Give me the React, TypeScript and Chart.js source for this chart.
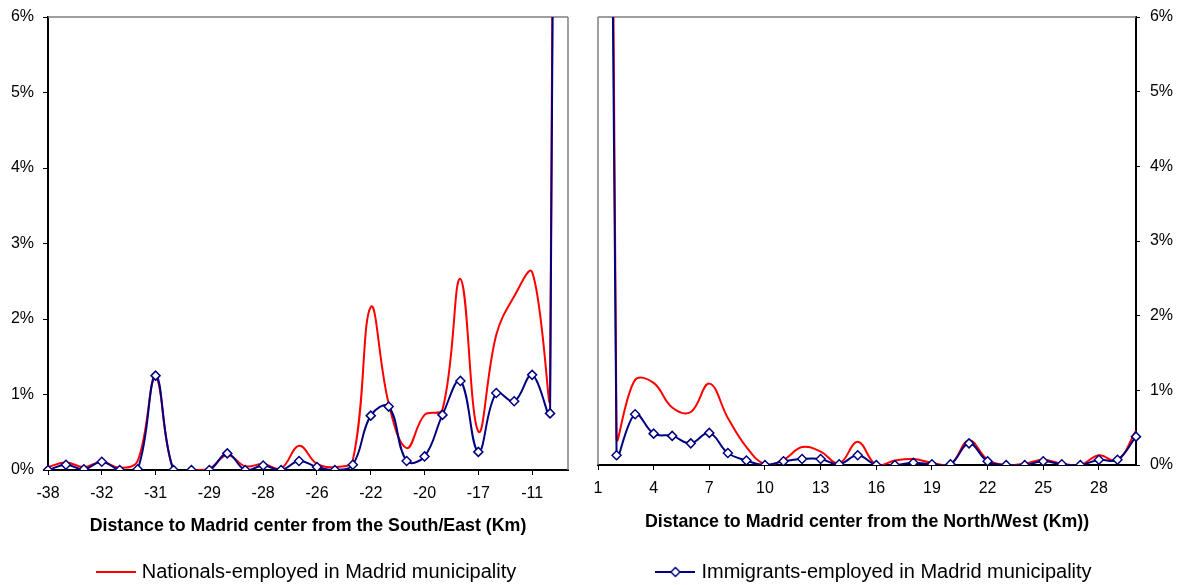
import React, { useEffect, useRef } from 'react';
import { Chart, registerables } from 'chart.js';

Chart.register(...registerables);

// ---------- data ----------
const leftTickLabels = ['-38', '', '', '-32', '', '', '-31', '', '', '-29', '', '', '-28', '', '', '-26', '', '', '-22', '', '', '-20', '', '', '-17', '', '', '-11', '', ''];
const leftNationals = [0.04, 0.10, 0.04, 0.11, 0.03, 0.12, 1.22, 0.0, 0.0, 0.02, 0.20, 0.05, 0.08, 0.02, 0.32, 0.08, 0.04, 0.13, 2.16, 0.88, 0.29, 0.73, 0.80, 2.53, 0.51, 1.79, 2.30, 2.62, 1.02, 55];
const leftImmigrants = [0.0, 0.07, 0.01, 0.11, 0.0, 0.01, 1.25, 0.0, 0.0, 0.0, 0.22, 0.0, 0.06, 0.0, 0.12, 0.04, 0.0, 0.07, 0.72, 0.84, 0.12, 0.18, 0.73, 1.18, 0.24, 1.02, 0.91, 1.26, 0.75, 50];

const rightCategories = ['1', '2', '3', '4', '5', '6', '7', '8', '9', '10', '11', '12', '13', '14', '15', '16', '17', '18', '19', '20', '21', '22', '23', '24', '25', '26', '27', '28', '29', '30'];
const rightShownTicks = ['1', '4', '7', '10', '13', '16', '19', '22', '25', '28'];
const rightNationals = [45, 0.39, 1.14, 1.10, 0.77, 0.71, 1.09, 0.63, 0.24, 0.01, 0.07, 0.24, 0.18, 0.02, 0.31, 0.0, 0.06, 0.08, 0.03, 0.01, 0.33, 0.07, 0.0, 0.02, 0.07, 0.02, 0.0, 0.13, 0.06, 0.46];
const rightImmigrants = [40, 0.13, 0.68, 0.42, 0.39, 0.29, 0.43, 0.16, 0.06, 0.0, 0.05, 0.08, 0.08, 0.01, 0.13, 0.0, 0.0, 0.03, 0.01, 0.01, 0.29, 0.05, 0.0, 0.0, 0.05, 0.01, 0.0, 0.07, 0.07, 0.38];

const yMin = 0;
const yMax = 6;
const yStep = 1;

const nationalsLabel = 'Nationals-employed in Madrid municipality';
const immigrantsLabel = 'Immigrants-employed in Madrid municipality';
const leftTitle = 'Distance to Madrid center from the South/East (Km)';
const rightTitle = 'Distance to Madrid center from the North/West (Km))';

// ---------- styles ----------
const RED = '#FF0000';
const NAVY = '#000080';
const FONT = "'Liberation Sans', Arial, Helvetica, sans-serif";

Chart.defaults.font.family = FONT;
Chart.defaults.color = '#000';

function makeSymbol(color: string, diamond: boolean) {
  const c = document.createElement('canvas');
  c.width = 40;
  c.height = 12;
  const g = c.getContext('2d') as CanvasRenderingContext2D;
  g.strokeStyle = color;
  g.lineWidth = 2;
  g.beginPath();
  g.moveTo(0, 6);
  g.lineTo(40, 6);
  g.stroke();
  if (diamond) {
    g.fillStyle = '#fff';
    g.lineWidth = 1.5;
    g.beginPath();
    g.moveTo(20, 1.5);
    g.lineTo(24.5, 6);
    g.lineTo(20, 10.5);
    g.lineTo(15.5, 6);
    g.closePath();
    g.fill();
    g.stroke();
  }
  return c;
}

function framePlugin(sides: string[]) {
  return {
    id: 'plotFrame',
    beforeDatasetsDraw(chart: any) {
      const { ctx, chartArea: a } = chart;
      ctx.save();
      ctx.strokeStyle = '#808080';
      ctx.lineWidth = 1.5;
      ctx.beginPath();
      if (sides.includes('top')) {
        ctx.moveTo(a.left, a.top);
        ctx.lineTo(a.right, a.top);
      }
      if (sides.includes('right')) {
        ctx.moveTo(a.right, a.top);
        ctx.lineTo(a.right, a.bottom);
      }
      if (sides.includes('left')) {
        ctx.moveTo(a.left, a.top);
        ctx.lineTo(a.left, a.bottom);
      }
      ctx.stroke();
      ctx.restore();
    },
  };
}

function datasets(nat: number[], imm: number[]) {
  return [
    {
      label: nationalsLabel,
      data: nat,
      borderColor: RED,
      backgroundColor: RED,
      borderWidth: 2,
      pointRadius: 0,
      tension: 0.4,
      fill: false,
      order: 2,
    },
    {
      label: immigrantsLabel,
      data: imm,
      borderColor: NAVY,
      backgroundColor: NAVY,
      borderWidth: 2,
      pointStyle: 'rectRot',
      pointRadius: 4.5,
      pointBackgroundColor: '#fff',
      pointBorderColor: NAVY,
      pointBorderWidth: 1.5,
      tension: 0.4,
      fill: false,
      order: 1,
    },
  ];
}

function yScale(position: 'left' | 'right', width: number, tickLength: number, padding: number, mirror: boolean) {
  return {
    position,
    min: yMin,
    max: yMax,
    ticks: {
      stepSize: yStep,
      callback: (v: any) => `${v}%`,
      font: { size: 16, family: FONT },
      color: '#000',
      padding,
      mirror,
      crossAlign: 'near',
    },
    grid: { drawOnChartArea: false, drawTicks: true, tickLength, color: '#000', lineWidth: 1 },
    border: { display: true, color: '#000', width: 2 },
    afterFit: (s: any) => {
      s.width = width;
      s.paddingTop = 0;
      s.paddingBottom = 0;
    },
  };
}

function xScale(labelsShown: (v: string, i: number) => string, title: string, height: number, titlePad: number) {
  return {
    type: 'category',
    offset: false,
    ticks: {
      autoSkip: false,
      maxRotation: 0,
      minRotation: 0,
      padding: 9,
      font: { size: 16, family: FONT },
      color: '#000',
      callback: function (this: any, _v: any, i: number) {
        return labelsShown(this.getLabelForValue(i), i);
      },
    },
    grid: {
      drawOnChartArea: false,
      drawTicks: true,
      tickLength: 5,
      lineWidth: 1,
      color: (c: any) => (c.index % 3 === 0 ? '#000' : 'rgba(0,0,0,0)'),
    },
    border: { display: true, color: '#000', width: 2 },
    title: {
      display: true,
      text: title,
      color: '#000',
      font: { size: 17.8, weight: 'bold', family: FONT },
      padding: { top: 0, bottom: titlePad },
    },
    afterFit: (s: any) => {
      s.height = height;
      s.paddingLeft = 0;
      s.paddingRight = 0;
    },
  };
}

function legendOpts(text: string, symbol: HTMLCanvasElement, idx: number, fullSize: boolean) {
  return {
    position: 'bottom',
    fullSize,
    labels: {
      usePointStyle: true,
      pointStyleWidth: 32,
      padding: 10,
      color: '#000',
      font: { size: 20, family: FONT },
      generateLabels: () => [
        {
          text,
          pointStyle: symbol,
          datasetIndex: idx,
          hidden: false,
          lineWidth: 0,
          fillStyle: 'rgba(0,0,0,0)',
          strokeStyle: 'rgba(0,0,0,0)',
          fontColor: '#000',
        },
      ],
    },
  };
}

export default function App() {
  const leftRef = useRef<HTMLCanvasElement>(null);
  const rightRef = useRef<HTMLCanvasElement>(null);

  useEffect(() => {
    const redSym = makeSymbol(RED, false);
    const navySym = makeSymbol(NAVY, true);

    const left = new Chart(leftRef.current as HTMLCanvasElement, {
      type: 'line',
      data: { labels: leftTickLabels, datasets: datasets(leftNationals, leftImmigrants) as any },
      options: {
        responsive: false,
        animation: false,
        devicePixelRatio: 1,
        events: [],
        layout: { padding: { left: 0, right: 12, top: 17, bottom: -7 } },
        elements: { line: { capBezierPoints: false } },
        plugins: {
          legend: legendOpts(nationalsLabel, redSym, 0, false) as any,
          tooltip: { enabled: false },
        },
        scales: {
          x: xScale((v) => v, leftTitle, 82, 15) as any,
          y: yScale('left', 48, 5, 9, false) as any,
        },
      },
      plugins: [framePlugin(['top', 'right'])],
    });

    const right = new Chart(rightRef.current as HTMLCanvasElement, {
      type: 'line',
      data: { labels: rightCategories, datasets: datasets(rightNationals, rightImmigrants) as any },
      options: {
        responsive: false,
        animation: false,
        devicePixelRatio: 1,
        events: [],
        layout: { padding: { left: 18, right: 31, top: 17, bottom: -7 } },
        elements: { line: { capBezierPoints: false } },
        plugins: {
          legend: legendOpts(immigrantsLabel, navySym, 1, true) as any,
          tooltip: { enabled: false },
        },
        scales: {
          x: xScale((v) => (rightShownTicks.includes(v) ? v : ''), rightTitle, 87, 19) as any,
          y: yScale('right', 17, 4, 37, true) as any,
        },
      },
      plugins: [framePlugin(['top', 'left'])],
    });

    return () => {
      left.destroy();
      right.destroy();
    };
  }, []);

  return (
    <div style={{ position: 'fixed', left: 0, top: 0, width: 1184, height: 585, background: '#fff', overflow: 'hidden' }}>
      <canvas ref={leftRef} width={580} height={585} style={{ position: 'absolute', left: 0, top: 0 }} />
      <canvas ref={rightRef} width={604} height={585} style={{ position: 'absolute', left: 580, top: 0 }} />
    </div>
  );
}
